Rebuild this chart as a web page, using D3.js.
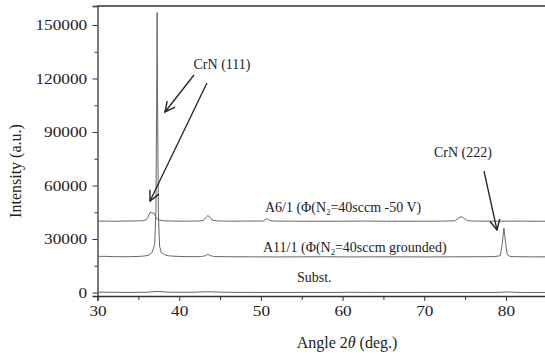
<!DOCTYPE html>
<html><head><meta charset="utf-8">
<script src="https://cdn.jsdelivr.net/npm/d3@7"></script>
<style>
html,body{margin:0;padding:0;background:#fff;}
</style></head>
<body>
<svg id="c" width="545" height="356"></svg>
<script>
// ---- data (angle 2θ in deg, intensity in a.u.) ----
const angleA6  = [30,31,32,33,34,35,35.6,36.0,36.2,36.4,36.55,36.7,36.85,37.0,37.2,37.5,37.9,38.5,39.5,41,42.5,43.0,43.3,43.5,43.7,44.0,44.6,46,48,50.3,50.6,50.8,51.1,51.6,54,57,60,63,66,69,72,73.7,74.1,74.4,74.6,74.9,75.3,76,78,80,82,84,85];
const intA6    = [40000,40050,39950,40050,40100,40150,40300,40900,42400,44600,45200,44300,44800,43600,41600,40700,40300,40150,40050,40000,40100,40450,42200,43100,42600,40700,40150,40000,40050,40100,41100,41300,40300,40050,40000,39950,40000,40050,39950,40000,40000,40150,41300,42300,42500,41500,40300,40050,40000,40000,40050,39950,40000];

const angleA11 = [30,31,32,33,34,35,35.8,36.3,36.7,37.0,37.15,37.25,37.3,37.35,37.45,37.6,37.8,38.2,38.7,39.5,41,42.6,43.2,43.5,43.8,44.3,46,49,52,55,58,61,64,67,70,73,76,78.5,79.3,79.55,79.75,79.95,80.15,80.45,81,83,85];
const intA11   = [20300,20250,20100,20050,20100,20200,20500,21000,22600,27000,45000,110000,157000,110000,45000,26000,22500,21200,20600,20300,20100,20100,20600,21400,20700,20150,20050,20000,19950,20000,20050,19950,20000,20000,19950,20000,20050,20100,20600,27500,36200,28000,21300,20300,20100,20000,20000];

const angleSub = [30,32,34,36,37.3,38.5,41,43.5,46,49,52,55,58,61,64,67,70,73,76,79,80,82,85];
const intSub   = [200,100,50,150,600,200,100,400,100,50,0,50,0,100,50,0,50,0,0,50,300,0,0];

const xTicks = [30,40,50,60,70,80];
const xMinor = [35,45,55,65,75,85];
const yTicks = [0,30000,60000,90000,120000,150000];
const yMinor = [15000,45000,75000,105000,135000];

const xLabel = "Angle 2";
const yLabel = "Intensity (a.u.)";
const seriesLabels = [
  {pre:"A6/1 (Φ(N", sub:"2", post:"=40sccm -50 V)", ax:50.5, ay:45140},
  {pre:"A11/1 (Φ(N", sub:"2", post:"=40sccm grounded)", ax:50.26, ay:22710},
  {pre:"Subst.", sub:"", post:"", ax:54.42, ay:5890}
];
const peakLabels = [
  {text:"CrN (111)", ax:45.24, ay:125330},
  {text:"CrN (222)", ax:74.73, ay:75980}
];
const arrows = [
  {x1:41.81, y1:121970, x2:38.26, y2:101215},
  {x1:43.40, y1:117480, x2:36.43, y2:51310},
  {x1:77.31, y1:68130, x2:78.90, y2:35050}
];

// ---- chart ----
const FONT = '"Liberation Serif","Times New Roman",serif';
const svg = d3.select("#c");
const L = 97.5, R = 546.8, T = 6, B = 296;
const x = d3.scaleLinear().domain([30,85]).range([L,R]);
const y = d3.scaleLinear().domain([-1960,160650]).range([B,T]);
const ink = "#333";
const lineC = "#666";
const SX = 1.15;

// frame top
svg.append("line").attr("x1",L).attr("x2",545).attr("y1",T).attr("y2",T)
  .attr("stroke",ink).attr("stroke-width",1.3);

// axes
const gx = svg.append("g").attr("transform",`translate(0,${B})`)
  .call(d3.axisBottom(x).tickValues(xTicks).tickSize(5).tickPadding(4).tickFormat(d3.format("d")));
svg.append("g").attr("transform",`translate(0,${B})`)
  .call(d3.axisBottom(x).tickValues(xMinor).tickSize(4).tickFormat(""))
  .select(".domain").remove();
const gy = svg.append("g").attr("transform",`translate(${L},0)`)
  .call(d3.axisLeft(y).tickValues(yTicks).tickSize(5).tickPadding(4).tickFormat(d3.format("d")));
svg.append("g").attr("transform",`translate(${L},0)`)
  .call(d3.axisLeft(y).tickValues(yMinor).tickSize(3).tickFormat(""))
  .select(".domain").remove();

svg.selectAll(".domain").attr("stroke",ink).attr("stroke-width",1.3);
svg.selectAll(".tick line").attr("stroke",ink).attr("stroke-width",1);
svg.selectAll(".tick text").attr("fill","#222").attr("font-size",15);
gx.selectAll(".tick text").attr("transform",`scale(${SX},1)`)
  .attr("dy","0.71em");
gy.selectAll(".tick text").attr("transform",`scale(${SX},1)`);

// lines
const line = d3.line().x(d=>x(d[0])).y(d=>y(d[1]));
const series = [
  d3.zip(angleSub,intSub),
  d3.zip(angleA11,intA11),
  d3.zip(angleA6,intA6)
];
svg.append("defs").append("clipPath").attr("id","clip")
  .append("rect").attr("x",L).attr("y",T).attr("width",R-L).attr("height",B-T);
svg.append("g").attr("clip-path","url(#clip)").selectAll("path").data(series).join("path")
  .attr("d",line).attr("fill","none").attr("stroke",lineC).attr("stroke-width",1);

// series labels
seriesLabels.forEach(s=>{
  const t = svg.append("text").attr("x",x(s.ax)).attr("y",y(s.ay))
    .attr("font-size",14).attr("fill","#222");
  t.append("tspan").text(s.pre);
  if(s.sub){
    t.append("tspan").text(s.sub).attr("font-size",8.5).attr("dy",3);
    t.append("tspan").text(s.post).attr("dy",-3);
  }
});

// peak labels
peakLabels.forEach(p=>{
  svg.append("text").attr("x",x(p.ax)).attr("y",y(p.ay))
    .attr("text-anchor","middle").attr("font-size",14).attr("fill","#222").text(p.text);
});

// arrows
svg.select("defs").append("marker").attr("id","ah")
  .attr("viewBox","0 0 12 12").attr("refX",11).attr("refY",6)
  .attr("markerWidth",12).attr("markerHeight",12).attr("markerUnits","userSpaceOnUse")
  .attr("orient","auto")
  .append("path").attr("d","M1,1 L11,6 L1,11").attr("fill","none")
  .attr("stroke","#222").attr("stroke-width",1.4);
svg.selectAll(".arr").data(arrows).join("line").attr("class","arr")
  .attr("x1",d=>x(d.x1)).attr("y1",d=>y(d.y1))
  .attr("x2",d=>x(d.x2)).attr("y2",d=>y(d.y2))
  .attr("stroke","#222").attr("stroke-width",1.3).attr("marker-end","url(#ah)");

// axis titles
const xt = svg.append("text").attr("x",347).attr("y",348).attr("text-anchor","middle")
  .attr("font-size",16).attr("fill","#222");
xt.append("tspan").text(xLabel);
xt.append("tspan").text("θ").attr("font-style","italic");
xt.append("tspan").text(" (deg.)");
svg.append("text").attr("transform","translate(21,171) rotate(-90)")
  .attr("text-anchor","middle").attr("font-size",16).attr("fill","#222").text(yLabel);

// apply serif font to all text
svg.selectAll("g").attr("font-family",null);
svg.selectAll("text").style("font-family",FONT);
</script>
</body></html>
